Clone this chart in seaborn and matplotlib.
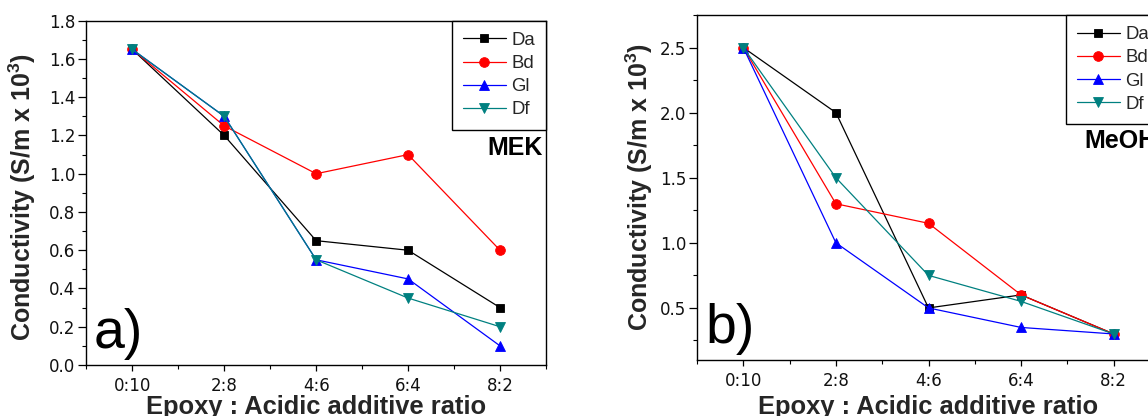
import numpy as np
import pandas as pd
import matplotlib
matplotlib.use("Agg")
import matplotlib.pyplot as plt
import seaborn as sns
from matplotlib.ticker import MultipleLocator, FormatStrFormatter

# ---------------- data ----------------
ratios = ["0:10", "2:8", "4:6", "6:4", "8:2"]
series = ["Da", "Bd", "Gl", "Df"]

mek_da = [1.65, 1.20, 0.65, 0.60, 0.30]
mek_bd = [1.65, 1.25, 1.00, 1.10, 0.60]
mek_gl = [1.65, 1.30, 0.55, 0.45, 0.10]
mek_df = [1.65, 1.30, 0.55, 0.35, 0.20]

meoh_da = [2.50, 2.00, 0.50, 0.60, 0.30]
meoh_bd = [2.50, 1.30, 1.15, 0.60, 0.30]
meoh_gl = [2.50, 1.00, 0.50, 0.35, 0.30]
meoh_df = [2.50, 1.50, 0.75, 0.55, 0.30]

colors = {"Da": "#000000", "Bd": "#ff0000", "Gl": "#0000ff", "Df": "#008080"}
markers = {"Da": "s", "Bd": "o", "Gl": "^", "Df": "v"}
msizes = {"Da": 6, "Bd": 7, "Gl": 7.5, "Df": 7.5}

ylabel = "Conductivity (S/m x 10$^{3}$)"
xlabel = "Epoxy : Acidic additive ratio"

# ---------------- style ----------------
sns.set_theme(style="ticks")
plt.rcParams["font.family"] = ["DejaVu Sans"]
plt.rcParams["mathtext.default"] = "regular"
TXT = "Liberation Sans"

W, H = 1148, 416
fig = plt.figure(figsize=(W / 100, H / 100), dpi=100)


def add_axes(l, t, r, b):
    return fig.add_axes([l / W, 1 - b / H, (r - l) / W, (b - t) / H])


def make_df(vals):
    rows = []
    for s, v in zip(series, vals):
        for i, (lab, y) in enumerate(zip(ratios, v)):
            rows.append({"series": s, "pos": i, "ratio": lab, "value": y})
    return pd.DataFrame(rows)


def draw(ax, vals, ylim, major, minor, tag, solvent, ylab_xy, xlab_y, tag_xy, solv_y):
    df = make_df(vals)
    for s in series:
        sub = df[df["series"] == s]
        sns.lineplot(data=sub, x="pos", y="value", ax=ax, color=colors[s],
                     marker=markers[s], markersize=msizes[s],
                     markeredgecolor=colors[s], markeredgewidth=0.6,
                     linewidth=0.9, label=s, sort=False, errorbar=None)
    ax.set_xlim(-0.5, len(ratios) - 0.5)
    ax.set_xticks(range(len(ratios)))
    ax.set_xticklabels(ratios)
    ax.xaxis.set_minor_locator(MultipleLocator(0.5))
    ax.set_ylim(*ylim)
    ax.yaxis.set_major_locator(MultipleLocator(major))
    ax.yaxis.set_minor_locator(MultipleLocator(minor))
    ax.yaxis.set_major_formatter(FormatStrFormatter("%.1f"))

    for sp in ax.spines.values():
        sp.set_color("black")
        sp.set_linewidth(1.0)
    ax.tick_params(axis="both", which="both", direction="out", color="black",
                   top=False, right=False, labelcolor="#111111", labelsize=12)
    ax.tick_params(axis="y", which="major", length=5.5, width=0.9, pad=2.2)
    ax.tick_params(axis="y", which="minor", length=3.0, width=0.8)
    ax.tick_params(axis="x", which="major", length=4.3, width=0.9, pad=4.5)
    ax.tick_params(axis="x", which="minor", length=2.6, width=0.8)

    ax.set_ylabel(ylabel, fontsize=18, fontweight="bold", fontfamily=TXT)
    ax.yaxis.set_label_coords(*ylab_xy)
    ax.set_xlabel(xlabel, fontsize=18.4, fontweight="bold", fontfamily=TXT)
    ax.xaxis.set_label_coords(0.5, xlab_y)

    leg = ax.legend(loc="upper right", borderaxespad=0, fancybox=False,
                    edgecolor="black", framealpha=1,
                    prop={"family": TXT, "size": 13.4},
                    handlelength=2.33, handletextpad=0.27, borderpad=0.6,
                    labelspacing=0.33, numpoints=1)
    leg.get_frame().set_linewidth(1.0)

    ax.text(tag_xy[0], tag_xy[1], tag, transform=ax.transAxes, fontsize=40,
            ha="left", va="baseline", color="black", fontfamily=TXT)
    ax.text(0.993, solv_y, solvent, transform=ax.transAxes, fontsize=18,
            fontweight="bold", ha="right", va="baseline", color="black",
            fontfamily=TXT)


ax1 = add_axes(86.3, 20.7, 546, 365)
ax2 = add_axes(697, 15, 1160, 360)

draw(ax1, [mek_da, mek_bd, mek_gl, mek_df], (0.0, 1.8), 0.2, 0.1, "a)", "MEK",
     (-0.105, 0.489), -0.0857, (0.015, 0.0485), 0.61)
draw(ax2, [meoh_da, meoh_bd, meoh_gl, meoh_df], (0.1, 2.75), 0.5, 0.25, "b)", "MeOH",
     (-0.0907, 0.502), -0.1014, (0.019, 0.048), 0.6136)

fig.savefig("out.png", dpi=100)
